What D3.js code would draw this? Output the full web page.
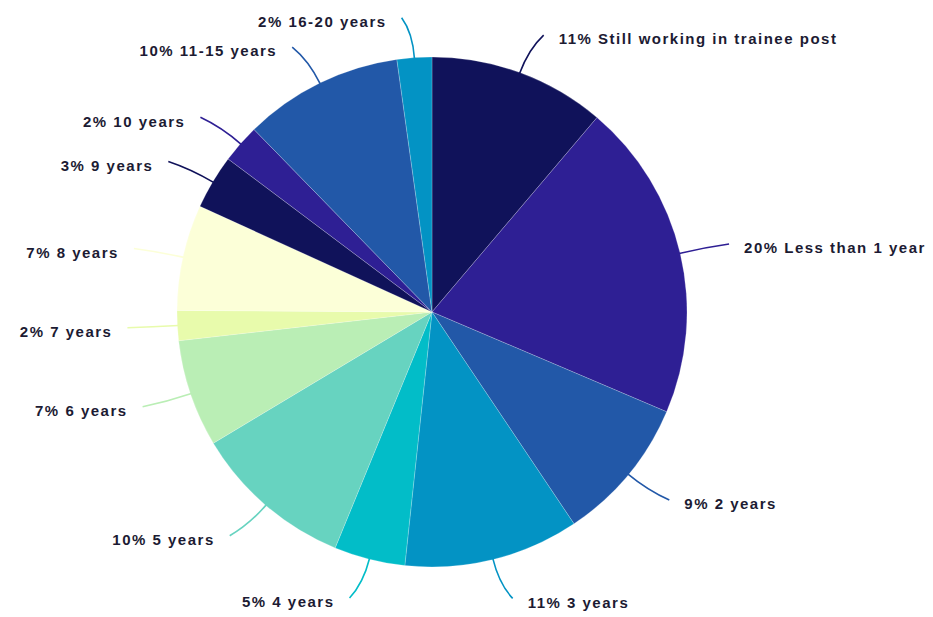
<!DOCTYPE html>
<html>
<head>
<meta charset="utf-8">
<script src="https://cdn.jsdelivr.net/npm/d3@7"></script>
<style>
  body { margin: 0; background: #fff; }
  #chart { width: 933px; height: 617px; }
</style>
</head>
<body>
<div id="chart"></div>
<script>

// slices clockwise from 12 o'clock
let categories = ["Still working in trainee post", "Less than 1 year", "2 years", "3 years",
  "4 years", "5 years", "6 years", "7 years", "8 years", "9 years", "10 years",
  "11-15 years", "16-20 years"];
let shares = [11.2, 20.2, 9.2, 11.1, 4.5, 10.2, 6.8, 1.9, 6.7, 3.45, 2.45, 10.1, 2.2];
let sliceColors = ["#10125a", "#2e1f94", "#2258a8", "#0393c4", "#02bdc8", "#67d3c0",
  "#baeeb5", "#e8fbac", "#fcffd8", "#10125a", "#2e1f94", "#2258a8", "#0393c4"];

let pieData = categories.map(function(c, i) {
  return { name: c, value: shares[i], color: sliceColors[i] };
});

let width = 933;
let height = 617;
let cx = 432;
let cy = 312;
let radius = 255;

let svg = d3.select("#chart")
  .append("svg")
  .attr("width", width)
  .attr("height", height);

let g = svg.append("g").attr("transform", "translate(" + cx + "," + cy + ")");

let pie = d3.pie().sort(null).value(function(d) { return d.value; });
let arc = d3.arc().innerRadius(0).outerRadius(radius);
let arcs = pie(pieData);

g.selectAll("path.slice")
  .data(arcs)
  .enter()
  .append("path")
  .attr("class", "slice")
  .attr("d", arc)
  .attr("fill", function(d) { return d.data.color; })
  .attr("stroke", "#ffffff")
  .attr("stroke-opacity", 0.35)
  .attr("stroke-width", 0.6);

// point on a circle of radius r at angle a (clockwise from north)
function polar(r, a) {
  return [r * Math.sin(a), -r * Math.cos(a)];
}
function midAngle(d) { return (d.startAngle + d.endAngle) / 2; }
function side(d) { return Math.sin(midAngle(d)) >= 0 ? 1 : -1; }

function leaderEnd(d) {
  let p = polar(radius + 40, midAngle(d));
  return [p[0] + side(d) * 10, p[1]];
}

g.selectAll("path.leader")
  .data(arcs)
  .enter()
  .append("path")
  .attr("class", "leader")
  .attr("fill", "none")
  .attr("stroke", function(d) { return d.data.color; })
  .attr("stroke-width", 1.6)
  .attr("d", function(d) {
    let a = midAngle(d);
    let p0 = polar(radius - 1, a);
    let c = polar(radius + 25, a);
    let e = leaderEnd(d);
    let path = d3.path();
    path.moveTo(p0[0], p0[1]);
    path.quadraticCurveTo(c[0], c[1], e[0], e[1]);
    return path.toString();
  });

g.selectAll("text.label")
  .data(arcs)
  .enter()
  .append("text")
  .attr("class", "label")
  .attr("x", function(d) { return leaderEnd(d)[0] + side(d) * 15; })
  .attr("y", function(d) { return leaderEnd(d)[1] + 4; })
  .attr("dy", "0.35em")
  .attr("text-anchor", function(d) { return side(d) > 0 ? "start" : "end"; })
  .text(function(d) { return Math.round(d.data.value) + "% " + d.data.name; })
  .style("font-family", "'Liberation Sans', Arial, sans-serif")
  .style("font-weight", "bold")
  .style("font-size", "15px")
  .style("letter-spacing", "1.5px")
  .style("fill", "#1c1b33");

</script>
</body>
</html>
